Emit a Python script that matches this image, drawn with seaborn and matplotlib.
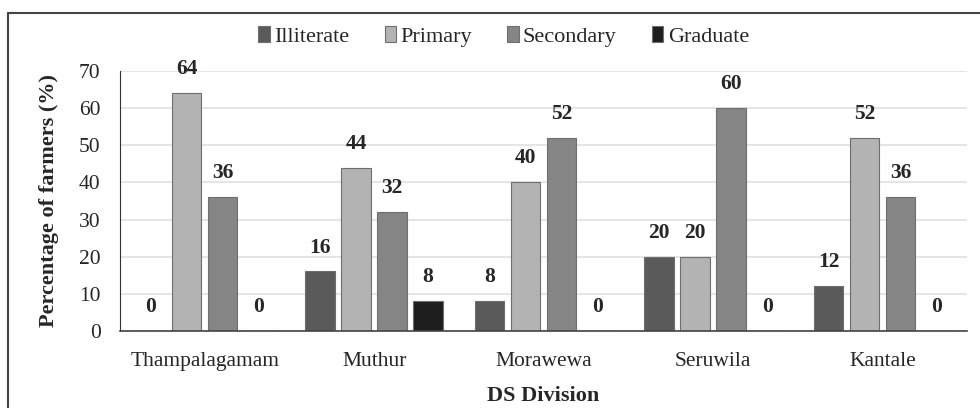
import matplotlib
matplotlib.use("Agg")
import matplotlib.pyplot as plt
import seaborn as sns
import pandas as pd
from matplotlib.lines import Line2D

# data
divisiones = ["Thampalagamam", "Muthur", "Morawewa", "Seruwila", "Kantale"]
niveles = ["Illiterate", "Primary", "Secondary", "Graduate"]
illiterate = [0, 16, 8, 20, 12]
primary = [64, 44, 40, 20, 52]
secondary = [36, 32, 52, 60, 36]
graduate = [0, 8, 0, 0, 0]
colores = ["#5a5a5a", "#b3b3b3", "#858585", "#1e1e1e"]

df = pd.DataFrame({"DS Division": divisiones, "Illiterate": illiterate,
                   "Primary": primary, "Secondary": secondary, "Graduate": graduate})
df = df.melt(id_vars="DS Division", var_name="Nivel", value_name="Porcentaje")

sns.set_style("white")
plt.rcParams["font.family"] = ["Liberation Serif", "DejaVu Serif"]

fig = plt.figure(figsize=(9.8, 4.08), dpi=100)
ax = fig.add_axes([0.1224, 0.189, 0.8646, 0.637])

sns.barplot(data=df, x="DS Division", y="Porcentaje", hue="Nivel",
            hue_order=niveles, order=divisiones, palette=colores,
            width=0.85, gap=0.18, edgecolor="#6e6e6e", linewidth=0.8,
            ax=ax, legend=True)

# etiquetas sobre las barras
for cont in ax.containers:
    ax.bar_label(cont, fmt="%d", padding=10, fontsize=15.5, fontweight="bold")

ax.set_ylim(0, 70)
ax.set_xlim(-0.5, 4.5)
ax.set_yticks(range(0, 71, 10))
ax.yaxis.grid(True, color="#dde0e6", linewidth=1.2)
ax.set_axisbelow(True)
ax.tick_params(axis="y", labelsize=15.5, length=0, pad=14)
ax.tick_params(axis="x", labelsize=15.5, length=0, pad=15)
for s in ["top", "right"]:
    ax.spines[s].set_visible(False)
ax.spines["left"].set_color("#333333")
ax.spines["bottom"].set_color("#444444")
ax.spines["bottom"].set_linewidth(1.2)

ax.set_xlabel("DS Division", fontsize=16, fontweight="bold", labelpad=11)
ax.set_ylabel("Percentage of farmers (%)", fontsize=16, fontweight="bold", labelpad=14)

leg = ax.legend(loc="upper center", bbox_to_anchor=(0.453, 1.25), ncol=4, frameon=False,
                fontsize=16, handlelength=0.5, handleheight=0.7, handletextpad=0.2,
                columnspacing=1.6)

# marco de la figura (solo arriba e izquierda visibles)
fig.add_artist(Line2D([8 / 980, 1.0], [1 - 13 / 408, 1 - 13 / 408], color="#444444", linewidth=1.5))
fig.add_artist(Line2D([8 / 980, 8 / 980], [0, 1 - 13 / 408], color="#444444", linewidth=1.5))

fig.savefig("out.png", dpi=100)
plt.close()
